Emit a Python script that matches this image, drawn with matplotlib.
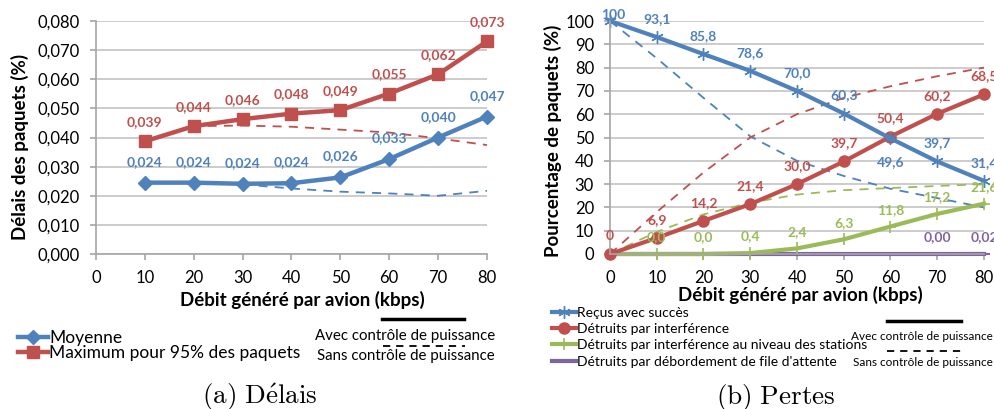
import numpy as np
import matplotlib
matplotlib.use("Agg")
import matplotlib.pyplot as plt
from matplotlib.lines import Line2D
from matplotlib.ticker import FuncFormatter

plt.rcParams['font.family'] = ['Lato', 'DejaVu Sans']
plt.rcParams['mathtext.fontset'] = 'cm'

# couleurs Excel
BLEU = "#4F81BD"
ROUGE = "#C0504D"
VERT = "#9BBB59"
VIOLET = "#8064A2"
GRILLE = "#BFBFBF"

# (a) Délais
debit_a = [10, 20, 30, 40, 50, 60, 70, 80]
moyenne = [0.0245, 0.0245, 0.0241, 0.0243, 0.0263, 0.0326, 0.0400, 0.0472]
moyenne_lbl = ["0,024", "0,024", "0,024", "0,024", "0,026", "0,033", "0,040", "0,047"]
maximum = [0.0387, 0.0439, 0.0463, 0.0482, 0.0494, 0.0551, 0.0617, 0.0730]
maximum_lbl = ["0,039", "0,044", "0,046", "0,048", "0,049", "0,055", "0,062", "0,073"]
moyenne_sans = [0.0245, 0.0245, 0.0239, 0.0225, 0.0214, 0.0208, 0.0200, 0.0217]
maximum_sans = [0.0387, 0.0439, 0.0441, 0.0437, 0.0427, 0.0417, 0.0397, 0.0374]

# (b) Pertes
debit_b = [0, 10, 20, 30, 40, 50, 60, 70, 80]
recus = [100, 93.1, 85.8, 78.6, 70.0, 60.3, 49.6, 39.7, 31.4]
recus_lbl = ["100", "93,1", "85,8", "78,6", "70,0", "60,3", "49,6", "39,7", "31,4"]
interf = [0, 6.9, 14.2, 21.4, 30.0, 39.7, 50.4, 60.2, 68.5]
interf_lbl = ["0", "6,9", "14,2", "21,4", "30,0", "39,7", "50,4", "60,2", "68,5"]
stations = [0, 0.0, 0.0, 0.4, 2.4, 6.3, 11.8, 17.2, 21.6]
stations_lbl = ["", "0,0", "0,0", "0,4", "2,4", "6,3", "11,8", "17,2", "21,6"]
file_att = [0, 0, 0, 0, 0, 0, 0, 0.00, 0.02]
file_att_lbl = ["", "", "", "", "", "", "", "0,00", "0,02"]
recus_sans = [100, 84, 67, 50.5, 40, 33.5, 28, 24, 20]
interf_sans = [0, 18, 35, 50, 60, 67, 72, 76.3, 80]
stations_sans = [0, 9.5, 17, 22, 25.5, 27.4, 28.3, 29.2, 30]
file_att_sans = [0, 0, 0, 0, 0, 0, 0, 0, 0]

W, H = 995, 409
fig = plt.figure(figsize=(W / 100, H / 100), dpi=100)


def px(x, y):
    return x / W, 1 - y / H


def style_axe(ax):
    for s in ["top", "right"]:
        ax.spines[s].set_visible(False)
    for s in ["left", "bottom"]:
        ax.spines[s].set_color("#A6A6A6")
        ax.spines[s].set_linewidth(1.2)
    ax.grid(axis="y", color=GRILLE, linewidth=1.1)
    ax.set_axisbelow(True)
    ax.tick_params(colors="#A6A6A6", labelcolor="black", labelsize=12,
                   length=4.5, width=1.2, pad=7)


def etiquettes(ax, xs, ys, lbls, col, dy=13, special=None):
    special = special or {}
    for i, (x, y, t) in enumerate(zip(xs, ys, lbls)):
        if not t:
            continue
        off = special.get(i, (0, dy))
        ax.annotate(t, (x, y), xytext=off, textcoords="offset points",
                    ha="center", va="center", color=col, fontsize=10,
                    fontweight="bold")


# ---------- (a) ----------
ax1 = fig.add_axes([96 / W, 1 - 254 / H, 391 / W, 233 / H])
style_axe(ax1)
ax1.plot(debit_a, moyenne_sans, color=BLEU, lw=1.3, ls=(0, (5, 4)))
ax1.plot(debit_a, maximum_sans, color=ROUGE, lw=1.3, ls=(0, (5, 4)))
l_moy, = ax1.plot(debit_a, moyenne, color=BLEU, lw=3.2, marker="D", ms=7)
l_max, = ax1.plot(debit_a, maximum, color=ROUGE, lw=3.2, marker="s", ms=8)
etiquettes(ax1, debit_a, moyenne, moyenne_lbl, BLEU, dy=15)
etiquettes(ax1, debit_a, maximum, maximum_lbl, ROUGE, dy=14)
ax1.set_xlim(0, 80)
ax1.set_ylim(0, 0.08)
ax1.set_xticks(range(0, 81, 10))
ax1.set_yticks(np.arange(0, 0.0801, 0.01))
ax1.yaxis.set_major_formatter(FuncFormatter(lambda v, p: f"{v:.3f}".replace(".", ",")))
for a in ax1.lines + ax1.texts:
    a.set_clip_on(False)

fig.text(*px(20, 147), "Délais des paquets (%)", rotation=90, ha="center",
         va="center", fontsize=13.5, fontweight="bold")
fig.text(*px(302, 300), "Débit généré par avion (kbps)", ha="center",
         va="center", fontsize=13.5, fontweight="bold")

fig.legend([l_moy, l_max], ["Moyenne", "Maximum pour 95% des paquets"],
           loc="upper left", bbox_to_anchor=px(18, 330), frameon=False,
           fontsize=12.5, handlelength=1.7, handletextpad=0.1,
           labelspacing=-0.05, borderpad=0, borderaxespad=0)

fig.add_artist(Line2D([382 / W, 464 / W], [1 - 319 / H] * 2, color="black", lw=2.5))
fig.add_artist(Line2D([383 / W, 465 / W], [1 - 346 / H] * 2, color="black", lw=1.3,
                      ls=(0, (4, 3.3))))
fig.text(*px(495, 336), "Avec contrôle de puissance", ha="right", va="center", fontsize=10.8)
fig.text(*px(495, 356), "Sans contrôle de puissance", ha="right", va="center", fontsize=10.8)
fig.text(*px(260, 404), r"$\mathrm{(a)\ D\acute{e}lais}$", ha="center", va="baseline",
         fontsize=19.5)

# ---------- (b) ----------
ax2 = fig.add_axes([610 / W, 1 - 254 / H, 374 / W, 233 / H])
style_axe(ax2)
ax2.plot(debit_b, recus_sans, color=BLEU, lw=1.3, ls=(0, (5, 4)))
ax2.plot(debit_b, interf_sans, color=ROUGE, lw=1.3, ls=(0, (5, 4)))
ax2.plot(debit_b, stations_sans, color=VERT, lw=1.3, ls=(0, (5, 4)))
ax2.plot(debit_b, file_att_sans, color=VIOLET, lw=1.3, ls=(0, (5, 4)))
l_fa, = ax2.plot(debit_b, file_att, color=VIOLET, lw=3, marker="_", ms=8, mew=1.5)
l_st, = ax2.plot(debit_b, stations, color=VERT, lw=3, marker="+", ms=8, mew=1.2)
l_in, = ax2.plot(debit_b, interf, color=ROUGE, lw=3, marker="o", ms=8)
l_re, = ax2.plot(debit_b, recus, color=BLEU, lw=3, marker=(6, 2, 0), ms=9, mew=1)
etiquettes(ax2, debit_b, recus, recus_lbl, BLEU, dy=13,
           special={0: (2, 4.5), 6: (0, -17)})
etiquettes(ax2, debit_b, interf, interf_lbl, ROUGE, dy=13)
etiquettes(ax2, debit_b, stations, stations_lbl, VERT, dy=12)
etiquettes(ax2, debit_b, file_att, file_att_lbl, VIOLET, dy=12)
ax2.set_xlim(0, 80)
ax2.set_ylim(0, 100)
ax2.set_xticks(range(0, 81, 10))
ax2.set_yticks(range(0, 101, 10))
for a in ax2.lines + ax2.texts:
    a.set_clip_on(False)

fig.text(*px(553, 141), "Pourcentage de paquets (%)", rotation=90, ha="center",
         va="center", fontsize=13.5, fontweight="bold")
fig.text(*px(800, 295), "Débit généré par avion (kbps)", ha="center",
         va="center", fontsize=13.5, fontweight="bold")

fig.legend([l_re, l_in, l_st, l_fa],
           ["Reçus avec succès", "Détruits par interférence",
            "Détruits par interférence au niveau des stations",
            "Détruits par débordement de file d'attente"],
           loc="upper left", bbox_to_anchor=px(552, 307), frameon=False,
           fontsize=10, handlelength=1.7, handletextpad=0.1,
           labelspacing=0.3, borderpad=0, borderaxespad=0)

fig.add_artist(Line2D([887 / W, 961 / W], [1 - 321 / H] * 2, color="black", lw=2.5))
fig.add_artist(Line2D([887 / W, 962 / W], [1 - 351 / H] * 2, color="black", lw=1.3,
                      ls=(0, (4, 3.3))))
fig.text(*px(993, 336), "Avec contrôle de puissance", ha="right", va="center", fontsize=8.5)
fig.text(*px(993, 363), "Sans contrôle de puissance", ha="right", va="center", fontsize=8.5)
fig.text(*px(776, 404), r"$\mathrm{(b)\ Pertes}$", ha="center", va="baseline",
         fontsize=19.5)

fig.savefig("out.png", dpi=100)
